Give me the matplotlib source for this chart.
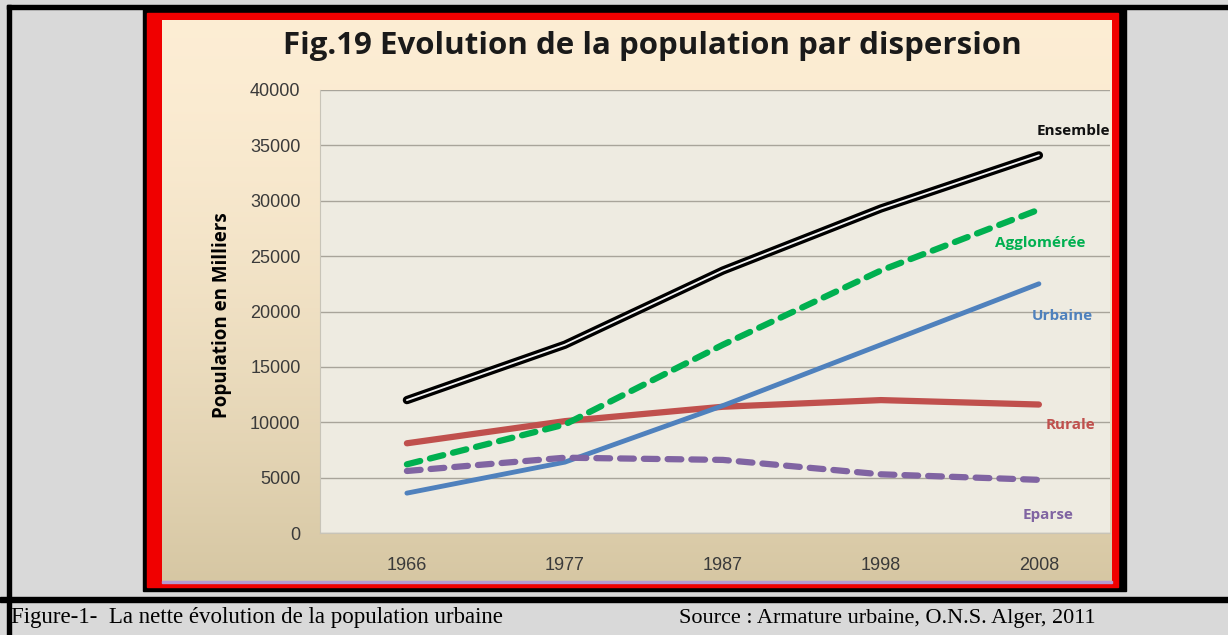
import matplotlib.pyplot as plt
import matplotlib.patheffects as pe
import numpy as np
from matplotlib.patches import Rectangle

years = ['1966', '1977', '1987', '1998', '2008']
ensemble = [12000, 17000, 23700, 29300, 34100]
agglomeree = [6200, 9800, 17000, 23700, 29200]
urbaine = [3600, 6400, 11500, 17000, 22500]
rurale = [8100, 10100, 11400, 12000, 11600]
eparse = [5600, 6800, 6600, 5300, 4800]
yticks = [0, 5000, 10000, 15000, 20000, 25000, 30000, 35000, 40000]

W, H = 1228, 635
fig = plt.figure(figsize=(W / 100, H / 100), dpi=100)
fig.patch.set_facecolor('#d9d9d9')

# background drawn in pixel coords
bg = fig.add_axes([0, 0, 1, 1])
bg.set_xlim(0, W)
bg.set_ylim(H, 0)
bg.axis('off')

# outer document borders
bg.add_patch(Rectangle((7, 5), 4, 640, color='black'))
bg.add_patch(Rectangle((7, 5), W, 4, color='black'))
bg.add_patch(Rectangle((0, 597), W, 5, color='black'))

# chart frame: black then red
bg.add_patch(Rectangle((143, 9), 983, 582, color='black'))
bg.add_patch(Rectangle((147, 13), 971, 574, color='#f00000'))
grad = np.linspace(0, 1, 256).reshape(-1, 1)
top = np.array([0.99, 0.93, 0.83])
bot = np.array([0.84, 0.78, 0.64])
img = top + (bot - top) * grad[:, :, None] ** 1.6
bg.imshow(img, extent=(162, 1112, 582, 20), aspect='auto', zorder=2)
bg.add_patch(Rectangle((162, 581), 950, 1.5, color='#b49ad0', zorder=3))

bg.text(652, 46, 'Fig.19 Evolution de la population par dispersion', ha='center', va='center',
        fontsize=22.5, fontweight='bold', family='Open Sans', color='#1a1a1a', zorder=4)
bg.text(222, 315, 'Population en Milliers', rotation=90, ha='center', va='center',
        fontsize=13.5, fontweight='bold', family='Open Sans', color='black', zorder=4)

bg.text(11, 618, 'Figure-1-  La nette \u00e9volution de la population urbaine', ha='left', va='center',
        fontsize=16.5, family='Liberation Serif', color='black')
bg.text(679, 618, 'Source : Armature urbaine, O.N.S. Alger, 2011', ha='left', va='center',
        fontsize=16, family='Liberation Serif', color='black')

# plot area
ax = fig.add_axes([320 / W, (H - 533) / H, 790 / W, 443 / H])
ax.set_zorder(3)
ax.set_facecolor('#eeebe1')
x = np.arange(len(years))
ax.set_xlim(-0.55, 4.45)
ax.set_ylim(0, 40000)
ax.set_yticks(yticks)
ax.set_yticklabels([str(v) for v in yticks])
ax.set_xticks(x)
ax.set_xticklabels(years)
ax.grid(axis='y', color='#a8a49a', lw=1)
ax.set_axisbelow(True)
for s in ['top', 'right']:
    ax.spines[s].set_visible(False)
for s in ['left', 'bottom']:
    ax.spines[s].set_color('#c8c4b8')
ax.tick_params(length=0, colors='#3a3a3a', labelsize=13)
ax.tick_params(axis='y', pad=14)
ax.tick_params(axis='x', pad=17)
for lab in ax.get_xticklabels() + ax.get_yticklabels():
    lab.set_family('Liberation Sans')

ax.plot(x, rurale, color='#c0504d', lw=4.5, solid_capstyle='round', zorder=3)
ax.plot(x, urbaine, color='#4f81bd', lw=3.5, solid_capstyle='round', zorder=3)
ax.plot(x, eparse, color='#8064a2', lw=4.5, ls=(0, (2.2, 1.6)), dash_capstyle='round', zorder=3)
ax.plot(x, agglomeree, color='#00b050', lw=4.5, ls=(0, (2.2, 1.6)), dash_capstyle='round', zorder=4)
ax.plot(x, ensemble, color='#f4f4f4', lw=1.3, solid_capstyle='round', zorder=5,
        path_effects=[pe.Stroke(linewidth=6, foreground='black'), pe.Normal()])

lab_kw = dict(fontsize=11, fontweight='bold', family='Open Sans', ha='center', va='center')
ax.text(4.22, 36300, 'Ensemble', color='#111111', **lab_kw)
ax.text(4.01, 26200, 'Agglom\u00e9r\u00e9e', color='#00b050', **lab_kw)
ax.text(4.15, 19600, 'Urbaine', color='#4f81bd', **lab_kw)
ax.text(4.20, 9750, 'Rurale', color='#c0504d', **lab_kw)
ax.text(4.06, 1650, 'Eparse', color='#8064a2', **lab_kw)

plt.savefig('out.png', dpi=100)
